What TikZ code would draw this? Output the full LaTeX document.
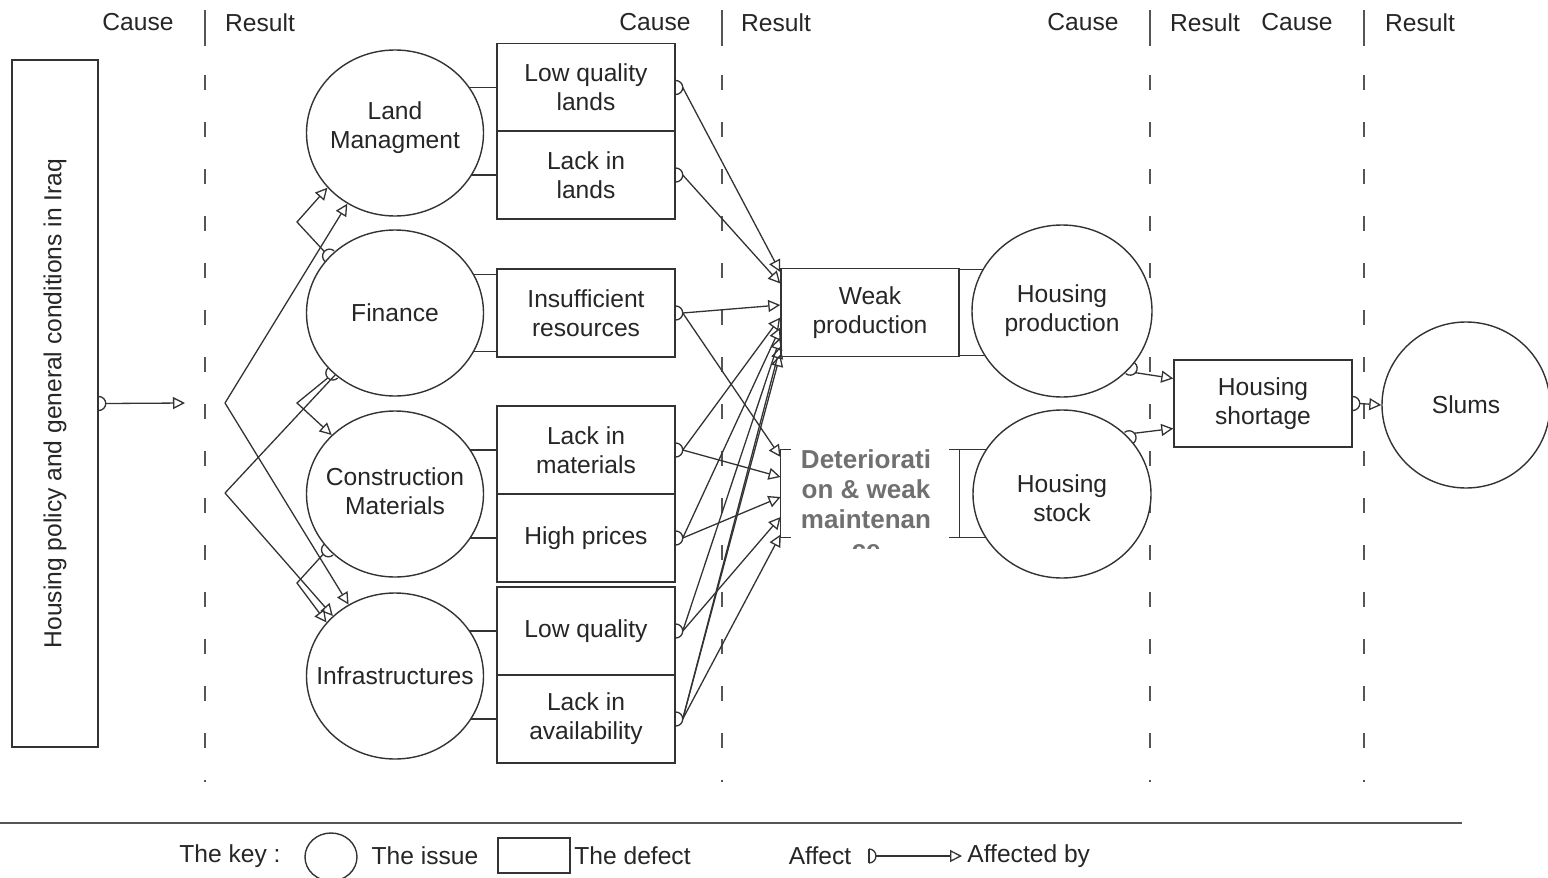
\documentclass[tikz,border=0pt]{standalone}
\usepackage{fontspec}
\setmainfont{Liberation Sans}
\usetikzlibrary{arrows.meta,shapes.geometric,backgrounds,calc}
\definecolor{lc}{HTML}{333333}
\definecolor{txt}{HTML}{262626}
\definecolor{dtxt}{HTML}{707070}
\definecolor{dsh}{HTML}{555555}
\newcommand\affmark[2]{\draw[link] ($(#1)+(#2-90:3.5pt)$) arc[start angle=#2-90, end angle=#2+90, radius=3.5pt];}
\begin{document}
\begin{tikzpicture}[x=0.5pt,y=-0.5pt,
  every node/.style={font=\fontsize{12.3}{14.5}\selectfont, text=txt},
  issue/.style={ellipse, draw=lc, line width=0.7pt, fill=white, inner sep=0pt, minimum width=88.5pt, minimum height=83pt},
  itext/.style={align=center, font=\fontsize{12.3}{14.5}\selectfont, text=txt},
  defect/.style={rectangle, draw=lc, line width=0.75pt, fill=white, minimum width=89pt, minimum height=44pt, align=center, inner sep=0pt},
  link/.style={draw=lc, line width=0.65pt},
  tip/.style={link, -{Triangle[open,length=6pt,width=6pt]}},
  sep/.style={draw=dsh, line width=0.7pt, dash pattern=on 7.5pt off 16pt},
]
\useasboundingbox (0,0) rectangle (1548,878);

% headers
\node at (138,22) {Cause};
\node at (260,23) {Result};
\node at (655,22) {Cause};
\node at (776,23) {Result};
\node at (1083,22) {Cause};
\node at (1205,23) {Result};
\node at (1297,22) {Cause};
\node at (1420,23) {Result};

% separators
\foreach \xx in {205,722,1150,1364}{
  \coordinate (ta) at (\xx,10);
  \coordinate (tb) at (\xx,46);
  \coordinate (tc) at (\xx,75);
  \coordinate (td) at (\xx,782);
  \draw[draw=dsh, line width=0.7pt] (ta) -- (tb);
  \draw[sep] (tc) -- (td);
}

% policy box
\node[draw=lc, line width=0.75pt, fill=white, minimum width=43pt, minimum height=343.5pt, inner sep=0pt] (pol) at (55,403.5) {};
\node[rotate=90] at (pol.center) {Housing policy and general conditions in Iraq};

% issues
\node[issue, label={[itext, yshift=2.5pt]center:Land\\Managment}] (land) at (395,133) {};
\node[issue, label={[itext]center:Finance}] (fin) at (395,313) {};
\node[issue, label={[itext, yshift=1.5pt]center:Construction\\Materials}] (con) at (395,494) {};
\node[issue, label={[itext]center:Infrastructures}] (infra) at (395,676) {};
\node[issue, minimum width=90pt, minimum height=86pt, label={[itext]center:Housing\\production}] (hprod) at (1062,311) {};
\node[issue, minimum width=89pt, minimum height=84pt, label={[itext, yshift=-2pt]center:Housing\\stock}] (hstock) at (1062,494) {};
\node[issue, minimum width=84pt, minimum height=83pt, label={[itext]center:Slums}] (slums) at (1466,405) {};

% defects
\node[defect] (lql) at (586,87.5) {Low quality\\lands};
\node[defect] (lil) at (586,175) {Lack in\\lands};
\node[defect] (ir) at (586,313) {Insufficient\\resources};
\node[defect] (lim) at (586,450) {Lack in\\materials};
\node[defect] (hpr) at (586,538) {High prices};
\node[defect] (lq) at (586,631) {Low quality};
\node[defect] (lia) at (586,719) {Lack in\\availability};
\node[defect] (wp) at (870,312.5) {Weak\\production};
\node[defect, minimum height=43.5pt] (short) at (1263,403.5) {Housing\\shortage};

% deterioration (bracketed)
\node[minimum width=89pt, minimum height=43.5pt, inner sep=0pt] (det) at (870,493.5) {};
\begin{scope}
  \clip (det.north west) rectangle ([yshift=-5.5pt]det.south east);
  \node[anchor=north, inner sep=0pt, align=center, text=dtxt, font=\bfseries\fontsize{13}{15}\selectfont] (dett) at (866,449) {Deteriorati\\on \& weak\\maintenan\\ce};
\end{scope}
\draw[lc, line width=0.75pt] ([xshift=5pt]det.north west) -- (det.north west) -- (det.south west) -- ([xshift=5pt]det.south west);
\draw[lc, line width=0.75pt] ([xshift=-5pt]det.north east) -- (det.north east) -- (det.south east) -- ([xshift=-5pt]det.south east);

% background short links
\begin{pgfonlayer}{background}
  \foreach \b in {lql,lil,lim,hpr,lq,lia}{ \draw[link, line width=0.7pt] (\b.west) -- ++(-40,0); }
  \draw[link, line width=0.7pt] ([yshift=-3pt]ir.north west) -- ++(-40,0);
  \draw[link, line width=0.7pt] ([yshift=3pt]ir.south west) -- ++(-40,0);
  \draw[link, line width=0.7pt] ([yshift=-1pt]wp.north east) -- ++(40,0);
  \draw[link, line width=0.7pt] ([yshift=1pt]wp.south east) -- ++(40,0);
  \draw[link, line width=0.7pt] (det.north east) -- ++(30,0);
  \draw[link, line width=0.7pt] (det.south east) -- ++(30,0);
\end{pgfonlayer}

% affect markers on box edges
\foreach \b in {lql,lil,ir,lim,hpr,lq,lia,short,pol}{
  \affmark{\b.east}{0}
  \coordinate (\b o) at ([xshift=3.5pt]\b.east);
}
% affect markers on circles
\affmark{fin.139}{139}  \coordinate (fa) at ($(fin.139)+(139:3.5pt)$);
\affmark{fin.224}{224}  \coordinate (fb) at ($(fin.224)+(224:3.5pt)$);
\affmark{con.220}{220}  \coordinate (ca) at ($(con.220)+(220:3.5pt)$);
\affmark{hprod.-40}{-40} \coordinate (hpo) at ($(hprod.-40)+(-40:3.5pt)$);
\affmark{hstock.40}{40}  \coordinate (hso) at ($(hstock.40)+(40:3.5pt)$);

% policy arrow and fan
\coordinate (pa) at (185,403);
\draw[tip] (polo) -- (pa);
\coordinate (v1) at (225,403);
\coordinate (v2) at (225,493);
\draw[tip] (v1) -- (land.236);
\draw[tip] (v1) -- (infra.123);
\draw[link] (v2) -- (fin.226);
\draw[tip] (v2) -- (infra.136);
% elbows between issues
\coordinate (e1) at (297,222);
\coordinate (e2) at (297,403);
\coordinate (e3) at (297,583);
\draw[tip] (fa) -- (e1) -- (land.219);
\draw[tip] (fb) -- (e2) -- (con.137);
\draw[tip] (ca) -- (e3) -- (infra.142);

% defects -> weak production
\draw[tip] (lqlo) -- ([yshift=20.25pt]wp.west);
\draw[tip] (lilo) -- ([yshift=14.5pt]wp.west);
\draw[tip] (iro)  -- ([yshift=3.75pt]wp.west);
\draw[tip] (limo) -- ([yshift=-2.5pt]wp.west);
\draw[tip] (hpro) -- ([yshift=-7.5pt]wp.west);
\draw[tip] (lqo)  -- ([yshift=-12.5pt]wp.west);
\draw[tip] (liao) -- ([yshift=-17pt]wp.west);
\draw[tip] (liao) -- ([yshift=-21pt]wp.west);
% defects -> deterioration
\draw[tip] (iro)  -- ([yshift=18.25pt]det.west);
\draw[tip] (limo) -- ([yshift=8.25pt]det.west);
\draw[tip] (hpro) -- ([yshift=-1.75pt]det.west);
\draw[tip] (lqo)  -- ([yshift=-11.75pt]det.west);
\draw[tip] (liao) -- ([yshift=-20.5pt]det.west);

% to housing shortage and slums
\draw[tip] (hpo) -- ([yshift=12.5pt]short.west);
\draw[tip] (hso) -- ([yshift=-12.5pt]short.west);
\draw[tip] (shorto) -- (slums.west);

% key
\coordinate (kl) at (0,823);
\coordinate (kr2) at (1462,823);
\draw[draw=dsh, line width=1pt] (kl) -- (kr2);
\node at (230,856) {The key :};
\node[ellipse, draw=lc, line width=0.7pt, minimum width=26pt, minimum height=24pt, inner sep=0pt] (kc) at (331,857) {};
\node at (425,856) {The issue};
\node[draw=lc, line width=0.7pt, minimum width=36pt, minimum height=17.5pt, inner sep=0pt] (krect) at (534,855.5) {};
\node[anchor=west, inner sep=0pt] at (574,856) {The defect};
\node at (820,856) {Affect};
\coordinate (ka) at (869,856);
\coordinate (kb) at (962,856);
\draw[link] ([yshift=3.5pt]ka) -- ([yshift=-3.5pt]ka);
\affmark{ka}{0}
\coordinate (kao) at ([xshift=3.5pt]ka);
\draw[tip] (kao) -- (kb);
\node[anchor=west, inner sep=0pt] at (967,856) {Affected by};
\end{tikzpicture}
\end{document}
